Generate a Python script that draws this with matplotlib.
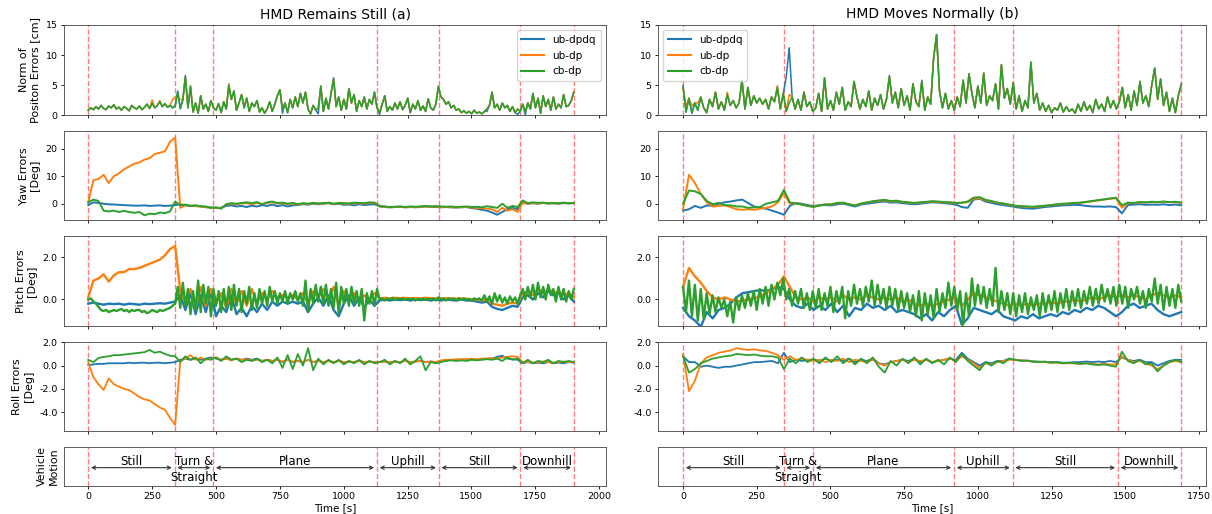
import numpy as np
import matplotlib.pyplot as plt
from matplotlib.ticker import FormatStrFormatter, MultipleLocator, NullLocator

# ---------------------------------------------------------------------------
# phases of the drive (seconds) and labels
# ---------------------------------------------------------------------------
still_bounds = [0, 338, 489, 1130, 1372, 1692, 1901]
moves_bounds = [0, 341, 441, 919, 1118, 1475, 1690]
phase_labels = ["Still", "Turn &\nStraight", "Plane", "Uphill", "Still", "Downhill"]
series_names = ["ub-dpdq", "ub-dp", "cb-dp"]
still_end = 1901
moves_end = 1690

# ---------------------------------------------------------------------------
# (a) HMD remains still
# ---------------------------------------------------------------------------
# position error norm [cm], every ~10 s
a_pos_cbdp = [
    0.8, 1.2, 0.9, 1.4, 1.0, 1.6, 1.1, 0.9, 1.5, 1.2,
    1.7, 1.0, 1.3, 0.8, 1.4, 1.1, 0.7, 1.6, 1.2, 1.0,
    1.5, 0.9, 1.3, 1.8, 1.1, 2.0, 1.2, 1.6, 2.2, 1.4,
    1.9, 1.3, 1.6, 1.2, 1.5,
    3.8, 1.0, 2.5, 6.4, 1.2, 4.8, 0.5, 2.0, 0.3, 3.2, 1.0, 1.8, 0.6, 2.4, 1.2,
    0.8, 1.9, 0.4, 2.2, 1.0, 5.0, 2.6, 4.0, 0.8, 2.0,
    3.4, 1.2, 2.8, 0.6, 2.0, 1.4, 2.4, 0.5, 1.2, 0.3,
    1.0, 2.2, 0.6, 1.8, 3.2, 4.2, 1.0, 2.0, 0.4, 2.6,
    1.2, 3.0, 1.4, 3.6, 2.0, 3.8, 1.0, 0.2, 1.6, 0.8,
    1.2, 4.8, 0.6, 2.8, 1.0, 3.6, 6.0, 1.4, 3.0, 0.8,
    2.6, 1.0, 4.4, 2.0, 3.4, 0.6, 2.4, 1.4, 3.0, 1.0,
    2.6, 1.8, 3.8, 1.2,
    0.4, 1.8, 3.2, 0.6, 1.4, 0.8, 2.0, 1.0, 2.2, 0.9,
    1.6, 2.8, 0.4, 1.8, 1.0, 2.4, 0.8, 1.5, 0.6, 2.7,
    1.2, 0.8, 1.8, 4.8,
    3.0, 2.6, 1.8, 2.2, 1.2, 1.6, 0.8, 1.0, 0.4, 0.7,
    0.3, 0.6, 0.2, 0.8, 0.3, 0.5, 0.2, 0.6, 1.0, 1.6,
    3.8, 1.2, 1.8, 0.8, 2.0, 1.2, 1.6, 0.6, 1.4, 0.4,
    1.0, 0.6,
    1.8, 0.5, 2.0, 1.0, 3.6, 1.2, 2.8, 0.3, 3.2, 1.4,
    2.6, 0.8, 3.0, 1.0, 1.8, 1.2, 3.4, 1.4, 1.6, 2.4, 3.8,
]
a_pos_ubdpdq = [
    0.8, 1.2, 0.9, 1.4, 1.0, 1.6, 1.1, 0.9, 1.5, 1.2,
    1.7, 1.0, 1.3, 0.8, 1.4, 1.1, 0.7, 1.6, 1.2, 1.0,
    1.5, 0.9, 1.3, 1.8, 1.1, 2.0, 1.2, 1.6, 2.2, 1.4,
    1.9, 1.3, 1.6, 1.2, 1.5,
    4.0, 1.2, 2.5, 6.6, 1.2, 4.6, 0.5, 2.0, 0.3, 3.2, 1.0, 1.8, 0.6, 2.4, 1.2,
    0.8, 1.9, 0.4, 2.2, 1.0, 4.8, 2.6, 4.0, 0.8, 2.0,
    3.4, 1.2, 2.8, 0.6, 2.0, 1.4, 2.4, 0.5, 1.2, 0.3,
    1.0, 2.2, 0.6, 1.8, 3.2, 4.2, 0.3, 2.0, 0.4, 2.6,
    1.2, 3.0, 1.4, 3.6, 2.0, 3.8, 1.0, 0.2, 1.6, 0.8,
    0.2, 4.8, 0.6, 2.8, 1.0, 3.6, 6.2, 1.4, 3.0, 0.8,
    2.6, 1.0, 4.4, 2.0, 3.4, 0.6, 2.4, 1.4, 3.0, 1.0,
    2.6, 1.8, 3.8, 1.2,
    0.1, 1.8, 3.2, 0.6, 1.4, 0.8, 2.0, 1.0, 2.2, 0.9,
    1.6, 2.8, 0.4, 1.8, 1.0, 2.4, 0.8, 1.5, 0.6, 2.7,
    1.2, 0.8, 1.8, 4.8,
    3.0, 2.6, 1.8, 2.2, 1.2, 1.6, 0.8, 1.0, 0.4, 0.7,
    0.3, 0.6, 0.2, 0.8, 0.3, 0.5, 0.2, 0.6, 0.6, 1.6,
    3.8, 1.2, 1.8, 0.8, 2.0, 1.2, 1.6, 0.6, 1.4, 0.4,
    0.1, 0.6,
    1.8, 0.0, 2.0, 1.0, 3.6, 1.2, 2.8, 0.3, 3.2, 1.4,
    2.6, 0.8, 3.0, 1.0, 1.8, 1.2, 3.4, 1.4, 1.6, 2.4, 3.8,
]
a_pos_ubdp = [
    0.8, 1.2, 0.9, 1.4, 1.0, 1.6, 1.1, 0.9, 1.5, 1.2,
    1.7, 1.0, 1.3, 0.8, 1.4, 1.1, 0.7, 1.6, 1.2, 1.0,
    1.5, 0.9, 1.3, 1.8, 1.1, 2.5, 1.2, 1.6, 2.4, 1.4,
    1.9, 1.3, 1.6, 2.6, 3.0,
    3.0, 2.6, 2.5, 6.2, 1.2, 4.9, 0.5, 2.0, 0.3, 3.2, 1.0, 1.8, 0.6, 2.4, 1.2,
    0.8, 1.9, 0.4, 2.2, 1.0, 5.2, 2.6, 4.0, 0.8, 2.0,
    3.4, 1.5, 2.8, 0.6, 2.0, 1.4, 2.4, 0.5, 1.2, 0.3,
    1.0, 2.2, 0.6, 1.8, 3.2, 4.2, 1.0, 2.0, 0.4, 2.6,
    1.2, 3.0, 1.4, 3.6, 2.0, 3.8, 1.0, 0.2, 1.6, 0.8,
    1.2, 4.8, 0.6, 2.8, 1.0, 3.6, 6.0, 1.4, 3.0, 0.8,
    2.6, 1.0, 4.4, 2.0, 3.4, 0.6, 2.4, 1.4, 3.0, 1.0,
    2.6, 1.8, 3.8, 1.2,
    0.4, 1.8, 3.2, 0.6, 1.4, 0.8, 2.0, 1.0, 2.2, 0.9,
    1.6, 2.8, 0.4, 1.8, 1.0, 2.4, 0.8, 1.5, 0.6, 2.7,
    1.2, 0.8, 1.8, 4.6,
    3.0, 2.6, 1.8, 2.2, 1.2, 1.6, 0.8, 1.0, 0.4, 0.7,
    0.3, 0.6, 0.2, 0.8, 0.3, 0.5, 0.2, 0.6, 1.0, 1.6,
    3.8, 1.2, 1.8, 0.8, 2.0, 1.2, 1.6, 0.6, 1.4, 0.4,
    1.0, 0.6,
    1.8, 0.5, 2.0, 1.0, 3.6, 1.2, 2.8, 0.3, 3.2, 1.4,
    2.6, 0.8, 3.0, 1.0, 1.8, 1.2, 3.4, 1.4, 1.6, 2.4, 3.8,
]

# yaw error [deg], every ~20 s
a_yaw_ubdpdq = [
    -0.5, 0.5, 0.3, 0.0, -0.2, -0.3, -0.4, -0.5, -0.6, -0.7,
    -0.7, -0.6, -0.8, -0.7, -0.6, -0.8, -0.7, -0.5,
    -0.2, -0.6, -0.8, -0.7, -1.0, -1.2, -1.4, -1.6,
    -1.4, -0.8, -0.6, -1.0, -0.8, -1.2, -0.7, -1.0, -0.5, -0.8,
    -0.3, -0.9, -0.5, -1.0, -0.6, -0.4, -0.2, -0.3, 0.0, -0.2,
    0.0, 0.2, -0.2, 0.0, -0.4, -0.3, -0.6, -0.2, -0.5, -0.3,
    -0.2, -1.0, -1.2, -1.3, -1.2, -1.1, -1.3, -1.2, -1.3, -1.2,
    -1.0, -1.1, -1.2, -1.3, -1.2, -1.3, -1.4, -1.3, -1.2, -1.6,
    -1.8, -2.2, -2.5, -3.2, -4.0, -3.0, -2.0, -1.5, -2.0, 0.3,
    0.0, 0.2, 0.0, 0.3, 0.1, 0.2, 0.0, 0.2, 0.1, 0.2,
]
a_yaw_ubdp = [
    0.5, 8.5, 9.0, 10.5, 7.5, 10.0, 11.0, 12.5, 13.5, 14.5,
    15.0, 16.0, 16.5, 18.0, 18.5, 19.0, 22.5, 24.0,
    -1.5, -0.5, -0.7, -0.9, -1.0, -1.3, -1.4, -1.5,
    -1.6, -0.3, 0.0, -0.2, 0.1, 0.2, -0.2, 0.3, -0.1, 0.2,
    0.6, 0.1, 0.2, -0.2, 0.1, -0.3, 0.0, -0.1, 0.2, 0.0,
    0.1, 0.3, -0.1, 0.2, 0.0, 0.0, 0.2, 0.1, 0.0, 0.3,
    0.2, -0.9, -1.1, -1.3, -1.2, -1.1, -1.3, -1.2, -1.2, -1.1,
    -1.0, -1.1, -1.0, -1.2, -1.2, -1.3, -1.3, -1.2, -1.2, -1.4,
    -1.5, -1.6, -1.8, -2.0, -3.0, -1.5, -2.5, -2.0, -3.0, 0.4,
    0.1, 0.2, 0.1, 0.3, 0.2, 0.1, 0.2, 0.3, 0.2, 0.2,
]
a_yaw_cbdp = [
    0.5, 1.5, 1.0, -2.5, -2.8, -2.5, -3.0, -2.6, -3.0, -3.3,
    -3.0, -4.2, -3.6, -3.8, -3.2, -3.4, -2.8, 0.8,
    -0.5, -0.3, -0.8, -0.6, -0.9, -1.0, -1.5, -1.3,
    -1.8, -0.2, 0.2, 0.0, 0.3, 0.5, 0.2, 0.6, -0.2, 0.5,
    0.8, 0.2, 0.4, 0.0, 0.3, -0.2, 0.2, 0.0, 0.3, 0.1,
    0.2, 0.4, 0.0, 0.3, 0.2, 0.1, 0.4, 0.3, 0.2, 0.5,
    0.4, -0.8, -1.0, -1.2, -1.1, -1.0, -1.2, -1.0, -1.1, -1.0,
    -0.8, -1.0, -0.9, -1.0, -1.1, -1.0, -1.2, -1.1, -1.0, -1.2,
    -1.1, -1.3, -0.9, -1.2, -1.5, 0.0, -1.5, -0.8, -1.2, 1.2,
    0.2, 0.5, 0.3, 0.4, 0.1, 0.3, 0.2, 0.4, 0.2, 0.3,
]

# pitch error [deg], cb-dp every ~10 s, the others every ~20 s
a_pitch_ubdpdq = [
    -0.2, -0.15, -0.2, -0.25, -0.2, -0.22, -0.2, -0.25, -0.2, -0.22,
    -0.25, -0.2, -0.22, -0.2, -0.18, -0.2, -0.15, -0.1,
    0.2, -0.5, 0.3, -0.7, 0.2, -0.6, 0.4, -0.8,
    -0.3, -0.6, 0.2, -0.7, -0.4, -0.8, -0.3, -0.6, -0.2, -0.5,
    -0.1, -0.3, -0.1, -0.2, -0.1, -0.2, -0.1, -0.6, -0.2, 0.1,
    -0.3, 0.2, -0.5, -0.8, -0.2, 0.2, -0.3, 0.1, -0.4, 0.0,
    -0.3, -0.05, 0.0, -0.05, 0.0, -0.03, 0.0, -0.05, 0.0, -0.03,
    0.0, -0.05, 0.0, -0.05, 0.0, -0.03, -0.05, 0.0, -0.05, -0.05,
    -0.1, -0.15, -0.1, -0.35, -0.45, -0.5, -0.4, -0.3, -0.35, 0.1,
    0.2, 0.0, 0.3, 0.1, 0.4, 0.2, 0.3, 0.0, 0.2, -0.1,
]
a_pitch_ubdp = [
    0.1, 0.9, 1.0, 1.2, 0.85, 1.15, 1.3, 1.3, 1.45, 1.45,
    1.5, 1.6, 1.7, 1.8, 1.9, 2.1, 2.4, 2.55,
    0.4, -0.2, 0.5, -0.4, 0.6, -0.3, 0.5, -0.2,
    0.3, -0.4, 0.5, -0.2, 0.4, -0.3, 0.5, -0.2, 0.3, 0.0,
    0.4, 0.1, 0.2, 0.1, 0.2, 0.0, 0.3, -0.2, 0.4, 0.1,
    0.5, 0.0, 0.6, -0.3, 0.4, 0.0, 0.3, -0.1, 0.2, 0.0,
    0.3, 0.05, 0.08, 0.05, 0.08, 0.06, 0.08, 0.05, 0.07, 0.05,
    0.08, 0.06, 0.05, 0.05, 0.06, 0.05, 0.04, 0.05, 0.03, 0.0,
    0.0, -0.05, 0.0, -0.2, -0.25, -0.3, -0.2, -0.15, -0.2, 0.3,
    0.4, 0.2, 0.5, 0.3, 0.5, 0.3, 0.4, 0.2, 0.3, 0.1,
]
a_pitch_cbdp = [
    0.0, 0.05, -0.1, -0.2, -0.35, -0.5, -0.55, -0.5, -0.6, -0.55,
    -0.5, -0.55, -0.5, -0.45, -0.55, -0.5, -0.6, -0.5, -0.55, -0.5,
    -0.5, -0.6, -0.55, -0.65, -0.6, -0.5, -0.55, -0.6, -0.5, -0.55,
    -0.5, -0.45, -0.4, -0.3, -0.2,
    0.6, -0.4, 0.8, -0.3, 0.5, -0.7, 0.4, -0.5, 0.9, -0.6, 0.7, -0.2, 0.6, -0.8, 0.5,
    -0.3, 0.4, -0.6, 0.5, -0.4, 0.6, -0.5, 0.7, -0.3, 0.5,
    -0.6, 0.4, -0.2, 0.6, -0.5, 0.3, -0.4, 0.5, -0.2, 0.4,
    -0.3, 0.6, -0.1, 0.4, -0.2, 0.3, -0.1, 0.4, -0.2, 0.3,
    0.0, 0.4, -0.1, 0.3, -0.3, 0.9, -0.6, 0.5, -0.2, 0.7,
    -0.1, 0.6, -0.2, 0.7, -0.3, 0.5, -0.4, 0.8, -0.7, 0.6,
    -0.2, 0.5, -0.3, 0.6, -0.2, 0.4, -0.3, 0.5, -1.0, 0.3,
    -0.2, 0.4, -0.3, 0.5,
    0.0, 0.05, -0.05, 0.05, 0.0, 0.08, -0.03, 0.05, 0.0, 0.06,
    -0.02, 0.04, 0.0, 0.05, -0.05, 0.03, 0.0, 0.05, -0.03, 0.04,
    0.0, 0.05, -0.05, 0.1,
    0.0, 0.05, -0.05, 0.05, 0.0, 0.04, -0.04, 0.06, -0.02, 0.05,
    0.0, 0.03, -0.05, 0.05, 0.0, 0.05, -0.05, 0.2, -0.1, 0.15,
    -0.2, 0.3, -0.1, 0.2, -0.15, 0.1, -0.2, 0.15, -0.1, 0.1,
    -0.2, 0.2,
    0.5, 0.0, 0.6, 0.1, 0.7, 0.0, 0.8, 0.1, 0.6, 0.0,
    0.7, 0.2, 0.5, -0.1, 0.6, 0.0, 0.5, -0.1, 0.4, 0.0, 0.5,
]

# roll error [deg], every ~20 s
a_roll_ubdpdq = [
    0.05, 0.1, 0.15, 0.15, 0.2, 0.2, 0.2, 0.2, 0.25, 0.2,
    0.25, 0.25, 0.2, 0.25, 0.25, 0.2, 0.25, 0.3,
    0.5, 0.6, 0.5, 0.6, 0.5, 0.6, 0.7, 0.6,
    0.5, 0.6, 0.5, 0.6, 0.5, 0.6, 0.5, 0.6, 0.4, 0.5,
    0.4, 0.5, 0.3, 0.5, 0.3, 0.4, 0.3, 0.5, 0.3, 0.4,
    0.3, 0.4, 0.3, 0.4, 0.3, 0.35, 0.3, 0.4, 0.3, 0.35,
    0.3, 0.3, 0.35, 0.3, 0.35, 0.3, 0.4, 0.3, 0.35, 0.4,
    0.3, 0.35, 0.3, 0.4, 0.45, 0.5, 0.45, 0.5, 0.5, 0.55,
    0.5, 0.55, 0.6, 0.6, 0.75, 0.85, 0.6, 0.55, 0.5, 0.2,
    0.3, 0.2, 0.25, 0.2, 0.3, 0.2, 0.25, 0.2, 0.3, 0.25,
]
a_roll_ubdp = [
    0.3, -1.0, -1.6, -2.1, -1.1, -1.6, -1.8, -2.0, -2.1, -2.4,
    -2.7, -2.9, -3.0, -3.3, -3.6, -3.8, -4.5, -5.1,
    0.4, 0.6, 0.9, 0.5, 0.7, 0.5, 0.6, 0.7,
    0.5, 0.6, 0.45, 0.6, 0.5, 0.55, 0.45, 0.5, 0.4, 0.5,
    0.4, 0.5, 0.35, 0.5, 0.35, 0.4, 0.3, 0.5, 0.3, 0.4,
    0.3, 0.4, 0.3, 0.4, 0.3, 0.35, 0.3, 0.4, 0.3, 0.35,
    0.3, 0.3, 0.35, 0.3, 0.35, 0.3, 0.4, 0.3, 0.35, 0.4,
    0.3, 0.35, 0.3, 0.45, 0.5, 0.5, 0.55, 0.55, 0.55, 0.6,
    0.55, 0.6, 0.6, 0.65, 0.6, 0.7, 0.75, 0.8, 0.75, 0.3,
    0.3, 0.25, 0.3, 0.35, 0.3, 0.25, 0.3, 0.35, 0.3, 0.3,
]
a_roll_cbdp = [
    0.5, 0.3, 0.65, 0.75, 0.8, 0.9, 0.9, 0.95, 1.0, 1.05,
    1.1, 1.15, 1.35, 1.1, 1.2, 1.0, 0.85, 0.8,
    0.3, 0.8, 0.5, 0.7, 0.2, 0.6, 0.5, 0.7,
    0.4, 0.8, 0.5, 0.6, 0.3, 0.5, 0.4, 0.6, 0.3, 0.5,
    0.2, 0.7, -0.2, 0.9, -0.3, 1.0, 0.0, 1.5, -0.4, 0.6,
    0.1, 0.5, 0.2, 0.5, 0.1, 0.4, 0.2, 0.5, 0.1, 0.4,
    0.2, 0.3, 0.5, 0.1, 0.4, 0.2, 0.6, 0.1, 0.4, 0.8,
    -0.4, 0.3, 0.2, 0.3, 0.4, 0.45, 0.4, 0.45, 0.4, 0.5,
    0.45, 0.5, 0.55, 0.5, 0.6, 0.4, 0.7, 0.5, 0.6, 0.2,
    0.5, 0.2, 0.4, 0.3, 0.5, 0.2, 0.4, 0.3, 0.4, 0.3,
]

# ---------------------------------------------------------------------------
# (b) HMD moves normally
# ---------------------------------------------------------------------------
b_pos_cbdp = [
    4.8, 0.5, 2.8, 0.3, 2.0, 0.8, 3.0, 1.2, 0.4, 2.6,
    1.4, 3.8, 1.0, 2.2, 0.8, 3.4, 1.6, 2.4, 1.2, 2.0,
    5.8, 1.0, 4.6, 1.6, 3.2, 2.0, 2.8, 1.8, 2.6, 1.0,
    3.0, 2.2, 4.6, 1.0, 3.6,
    0.6, 2.0, 3.0, 1.0, 2.6, 0.8, 3.8, 1.4, 2.2, 0.6,
    1.2, 3.6, 0.6, 6.2, 1.0, 2.4, 0.8, 3.8, 1.8, 4.6,
    0.8, 2.2, 1.4, 5.6, 3.0, 1.0, 2.6, 1.4, 4.0, 0.8,
    2.8, 1.6, 3.4, 1.0, 2.6, 6.4, 2.0, 3.8, 1.2, 4.4,
    1.6, 3.2, 0.8, 5.2, 2.2, 1.4, 5.6, 0.8, 3.0, 1.8,
    9.5, 13.4, 4.0, 1.2, 3.6, 1.0, 2.4,
    0.8, 3.0, 1.4, 5.8, 2.0, 6.8, 3.6, 1.2, 4.8, 2.0,
    7.0, 1.6, 3.2, 2.4, 5.2, 1.0, 8.4, 2.8, 4.4, 1.8,
    5.4, 1.0, 3.2, 0.6, 2.4, 1.2, 8.8, 2.0, 3.6, 0.8,
    2.0, 0.6, 1.6, 0.4, 1.2, 0.8, 2.0, 0.5, 1.4, 0.6,
    1.0, 0.3, 1.8, 0.6, 2.2, 0.8, 1.6, 0.4, 2.6, 1.0,
    1.8, 0.6, 3.0, 1.2, 2.4, 1.0,
    2.2, 4.6, 1.2, 3.4, 0.8, 4.0, 1.6, 5.6, 2.0, 3.2,
    1.4, 5.0, 7.8, 2.6, 6.0, 1.6, 3.8, 0.6, 2.8, 0.4,
    3.2, 5.0,
]
b_pos_ubdpdq = [
    4.9, 0.5, 2.8, 0.3, 2.0, 0.8, 3.0, 1.2, 0.4, 2.6,
    1.4, 3.8, 1.0, 2.2, 0.8, 3.4, 1.6, 2.4, 1.2, 2.0,
    5.8, 1.0, 4.6, 1.6, 3.2, 2.0, 2.8, 1.8, 2.6, 1.0,
    3.0, 2.2, 4.6, 1.0, 3.6,
    6.3, 11.2, 3.0, 1.0, 2.6, 0.8, 3.8, 1.4, 2.2, 0.6,
    1.2, 3.6, 0.6, 6.2, 1.0, 2.4, 0.8, 3.8, 1.8, 4.6,
    0.8, 2.2, 1.4, 5.6, 3.0, 1.0, 2.6, 1.4, 4.0, 0.8,
    2.8, 1.6, 3.4, 1.0, 2.6, 6.6, 2.0, 3.8, 1.2, 4.4,
    1.6, 3.2, 0.8, 5.2, 2.2, 1.4, 5.8, 0.8, 3.0, 1.8,
    9.5, 13.4, 4.0, 1.2, 3.6, 1.0, 2.4,
    0.8, 3.0, 1.4, 5.8, 2.0, 6.9, 3.6, 1.2, 4.8, 2.0,
    7.0, 1.6, 3.2, 2.4, 5.2, 1.0, 8.4, 2.8, 4.4, 1.8,
    5.4, 1.0, 3.2, 0.6, 2.4, 1.2, 8.8, 2.0, 3.6, 0.8,
    2.0, 0.6, 1.6, 0.4, 1.2, 0.8, 2.0, 0.5, 1.4, 0.6,
    1.0, 0.3, 1.8, 0.6, 2.2, 0.8, 1.6, 0.4, 2.6, 1.0,
    1.8, 0.6, 3.0, 1.2, 2.4, 1.0,
    2.2, 4.6, 1.2, 3.4, 0.8, 4.0, 1.6, 5.6, 2.0, 3.2,
    1.4, 5.0, 7.8, 2.6, 6.0, 1.6, 3.8, 0.6, 2.8, 0.4,
    3.2, 5.2,
]
b_pos_ubdp = [
    4.5, 1.5, 2.8, 1.5, 2.0, 2.0, 3.0, 1.2, 0.4, 2.6,
    1.4, 3.8, 1.0, 2.2, 0.8, 3.8, 1.6, 2.4, 1.2, 2.0,
    5.8, 1.0, 4.6, 1.6, 3.2, 2.0, 2.8, 1.8, 2.6, 1.0,
    3.0, 2.2, 4.9, 1.0, 3.6,
    0.6, 3.4, 3.0, 1.0, 2.6, 0.8, 3.8, 1.4, 2.2, 0.6,
    1.2, 3.6, 0.6, 6.2, 1.0, 2.4, 0.8, 3.8, 1.8, 4.6,
    0.8, 2.2, 1.4, 5.6, 3.0, 1.0, 2.6, 1.4, 4.0, 0.8,
    2.8, 1.6, 3.4, 1.0, 2.6, 6.4, 2.0, 3.8, 1.2, 4.4,
    1.6, 3.2, 0.8, 5.2, 2.2, 1.4, 5.6, 0.8, 3.0, 1.8,
    9.5, 13.4, 4.0, 1.2, 3.6, 1.0, 2.4,
    0.8, 3.0, 1.4, 5.8, 2.0, 6.8, 3.6, 1.2, 4.8, 2.0,
    7.0, 1.6, 3.2, 2.4, 5.2, 1.0, 8.4, 2.8, 4.4, 1.8,
    5.4, 1.0, 3.2, 0.6, 2.4, 1.2, 8.8, 2.0, 3.6, 0.8,
    2.0, 0.6, 1.6, 0.4, 1.2, 0.8, 2.0, 0.5, 1.4, 0.6,
    1.0, 0.3, 1.8, 0.6, 2.2, 0.8, 1.6, 0.4, 2.6, 1.0,
    1.8, 0.6, 3.0, 1.2, 2.4, 1.0,
    2.2, 4.6, 1.2, 3.4, 0.8, 4.0, 1.6, 5.6, 2.0, 3.2,
    1.4, 5.0, 7.8, 2.6, 6.0, 1.6, 3.8, 0.6, 2.8, 0.4,
    3.2, 5.0,
]

b_yaw_ubdpdq = [
    -2.5, -2.0, -0.8, -1.5, -0.6, -0.8, 0.0, 0.5, 0.8, 1.2,
    1.5, 0.2, -1.0, -1.5, -1.8, -2.5, -3.2, -4.0, -0.8, 0.3,
    0.0, -0.5, -0.8, -0.6, -0.5, -0.6, -0.2, 0.0, -0.5, -1.0,
    -0.3, 0.0, 0.3, 0.6, 0.8, 0.4, 0.5, 0.2, 0.0, -0.2,
    0.0, 0.3, 0.5, 0.4, 0.2, 0.0, -0.3, -1.2, -1.5, 1.5,
    1.8, 0.8, 0.3, -0.2, -0.5, -0.8, -1.2, -1.5, -1.7, -1.8,
    -1.5, -1.2, -1.0, -0.8, -0.6, -0.5, -0.4, -0.5, -0.8, -1.0,
    -1.0, -1.1, -1.0, -1.2, -3.5, -0.5, -0.3, -0.2, -0.4, -0.3,
    -0.4, -0.2, -0.5, -0.3, -0.6,
]
b_yaw_ubdp = [
    -2.0, 10.5, 7.5, 3.5, 0.5, -1.0, -0.8, -0.6, -1.2, -2.0,
    -2.2, -2.0, -2.2, -1.8, -1.5, -1.0, 0.5, 3.8, 0.0, 0.2,
    -0.3, -0.8, -1.0, -0.6, -0.2, -0.3, 0.2, 0.3, -0.2, -0.6,
    0.0, 0.4, 0.8, 1.0, 1.2, 0.8, 0.9, 0.6, 0.4, 0.2,
    0.4, 0.6, 0.8, 0.6, 0.5, 0.4, 0.2, 0.3, 0.6, 1.8,
    2.0, 1.2, 0.8, 0.3, 0.0, -0.4, -0.8, -1.0, -1.1, -1.2,
    -1.0, -0.8, -0.6, -0.3, -0.1, 0.0, 0.2, 0.3, 0.6, 0.9,
    1.2, 1.5, 1.8, 2.0, -1.5, 0.3, 0.2, 0.5, 0.4, 0.6,
    0.5, 0.7, 0.5, 0.6, 0.3,
]
b_yaw_cbdp = [
    0.0, 4.8, 4.5, 3.5, 1.0, -0.2, 0.3, -0.5, -0.6, -1.0,
    -1.0, -1.5, -1.3, -1.2, 0.0, 0.5, 1.0, 5.0, 0.5, 0.0,
    -0.3, -0.8, -1.2, -0.6, -0.3, -0.2, 0.3, 0.4, -0.2, -0.7,
    0.1, 0.5, 0.9, 1.2, 1.4, 1.0, 1.1, 0.7, 0.5, 0.3,
    0.5, 0.7, 0.9, 0.8, 0.6, 0.5, 0.3, 0.4, 0.8, 2.2,
    2.4, 1.4, 1.0, 0.4, 0.1, -0.3, -0.7, -0.9, -1.0, -1.1,
    -0.9, -0.7, -0.5, -0.2, 0.0, 0.1, 0.3, 0.4, 0.7, 1.0,
    1.3, 1.6, 1.9, 2.2, -0.5, 0.4, 0.3, 0.6, 0.5, 0.7,
    0.6, 0.8, 0.6, 0.7, 0.4,
]

b_pitch_ubdpdq = [
    -0.4, -0.8, -1.0, -1.3, -0.6, -0.9, -0.5, -0.4, -0.2, 0.1,
    0.3, 0.35, 0.4, 0.45, 0.4, 0.5, 0.6, 0.5, 0.0, -0.3,
    -0.4, -0.2, -0.5, -0.3, -0.5, -0.2, -0.6, -0.3, -0.8, -0.4,
    -0.5, -0.2, -0.4, -0.3, -0.5, -0.3, -0.6, -0.5, -0.6, -0.7,
    -0.9, -0.7, -1.0, -0.6, -0.8, -0.5, -0.3, -1.2, -0.9, -0.4,
    -0.5, -0.6, -0.7, -0.5, -0.8, -0.9, -1.0, -0.8, -0.9, -0.7,
    -0.9, -0.8, -0.7, -0.8, -0.6, -0.7, -0.5, -0.6, -0.4, -0.5,
    -0.3, -0.4, -0.6, -0.8, -0.6, -0.3, -0.2, -0.4, -0.3, -0.2,
    -0.5, -0.7, -0.8, -0.7, -0.6,
]
b_pitch_ubdp = [
    0.6, 1.5, 1.1, 0.8, 0.4, 0.1, 0.0, 0.1, 0.0, -0.1,
    -0.05, 0.0, 0.05, 0.15, 0.3, 0.5, 0.7, 1.1, 0.6, 0.1,
    0.0, 0.1, -0.1, 0.1, 0.0, 0.1, -0.1, 0.2, 0.0, 0.1,
    0.0, 0.2, 0.1, 0.0, 0.1, 0.0, 0.1, -0.1, 0.0, -0.2,
    -0.3, -0.2, -0.3, -0.2, -0.1, 0.0, 0.1, -0.3, 0.0, 0.3,
    0.2, 0.1, 0.0, -0.1, -0.2, -0.3, -0.2, -0.3, -0.2, -0.3,
    -0.2, -0.2, -0.1, -0.2, -0.1, -0.1, 0.0, -0.1, 0.0, 0.1,
    0.0, 0.1, 0.2, 0.1, 0.2, 0.1, 0.2, 0.1, 0.0, 0.2,
    0.3, 0.2, 0.1, 0.2, 0.1,
]
b_pitch_cbdp = [
    0.6, -0.6, 0.9, -0.8, 0.7, -1.0, 0.5, -0.9, 0.3, -0.7,
    0.2, -0.6, 0.1, -0.4, 0.0, -0.8, -0.1, -1.1, 0.1, -0.5,
    0.2, -0.4, 0.3, -0.3, 0.4, -0.5, 0.5, -0.2, 0.6, -0.3,
    0.7, 0.0, 0.8, 0.2, 1.0,
    0.0, 0.5, -0.3, 0.4, -0.2, 0.5, -0.4, 0.3, -0.5, 0.4,
    -0.4, 0.5, -0.5, 0.3, -0.3, 0.6, -0.6, 0.4, -0.2, 0.6,
    -0.9, 0.4, -0.3, 0.7, -0.2, 0.5, -0.3, 0.6, -0.1, 0.9,
    -0.3, 0.7, -0.2, 0.5, -0.4, 0.6, -0.3, 0.5, -0.5, 0.4,
    -0.4, 0.3, -0.6, 0.2, -0.8, 0.4, -1.0, 0.3, -0.7, 0.2,
    -0.9, 0.5, -0.6, 0.3, -0.4, 0.8, -0.3,
    0.6, -0.5, 0.4, -1.2, 0.3, -0.8, 1.0, -0.3, 0.7, -0.2,
    0.6, -0.4, 0.5, -0.3, 1.5, -0.6, 0.4, -0.5, 0.3, -0.7,
    0.3, -0.8, 0.2, -0.6, 0.3, -0.7, 0.1, -0.5, 0.2, -0.8,
    0.3, -0.6, 0.2, -0.5, 0.4, -0.6, 0.3, -0.4, 0.5, -0.5,
    0.4, -0.3, 0.5, -0.4, 0.4, -0.2, 0.6, -0.3, 0.5, -0.2,
    0.7, -0.1, 0.5, -0.2, 0.6, -0.3,
    0.7, -0.2, 0.6, -0.4, 0.5, 0.0, 0.6, -0.2, 0.4, -0.4,
    0.5, -0.1, 1.0, -0.2, 0.7, -0.5, 0.6, -0.3, 0.5, -0.4,
    0.7, -0.1,
]

b_roll_ubdpdq = [
    0.8, 0.3, 0.3, -0.1, 0.0, -0.1, -0.2, -0.1, -0.1, 0.0,
    0.1, 0.2, 0.3, 0.3, 0.35, 0.4, 0.2, 1.1, 0.3, 0.5,
    0.4, 0.5, 0.5, 0.4, 0.6, 0.4, 0.5, 0.4, 0.6, 0.3,
    0.5, 0.4, 0.6, 0.2, 0.1, 0.3, 0.4, 0.5, 0.4, 0.6,
    0.3, 0.5, 0.3, 0.4, 0.5, 0.6, 0.5, 1.1, 0.6, 0.3,
    0.0, 0.3, 0.2, 0.4, 0.4, 0.6, 0.5, 0.45, 0.4, 0.35,
    0.35, 0.3, 0.3, 0.3, 0.25, 0.25, 0.3, 0.3, 0.35, 0.3,
    0.35, 0.3, 0.4, 0.3, 0.7, 0.5, 0.4, 0.5, 0.3, 0.3,
    0.0, 0.2, 0.4, 0.5, 0.5,
]
b_roll_ubdp = [
    1.0, -2.2, -1.3, 0.2, 0.7, 0.9, 1.1, 1.2, 1.3, 1.5,
    1.4, 1.35, 1.4, 1.3, 1.25, 1.1, 0.9, 0.5, 0.8, 0.5,
    0.6, 0.5, 0.4, 0.5, 0.3, 0.5, 0.4, 0.6, 0.3, 0.5,
    0.4, 0.3, 0.5, 0.2, 0.0, 0.3, 0.4, 0.5, 0.3, 0.5,
    0.4, 0.5, 0.3, 0.4, 0.5, 0.6, 0.4, 0.8, 0.5, 0.2,
    -0.2, 0.2, 0.1, 0.3, 0.4, 0.5, 0.5, 0.45, 0.4, 0.35,
    0.3, 0.3, 0.25, 0.25, 0.2, 0.2, 0.2, 0.15, 0.2, 0.15,
    0.1, 0.15, 0.1, 0.1, 0.8, 0.5, 0.3, 0.4, 0.2, 0.0,
    -0.3, 0.0, 0.3, 0.4, 0.3,
]
b_roll_cbdp = [
    0.8, -0.6, -0.3, 0.2, 0.4, 0.6, 0.7, 0.8, 0.85, 1.0,
    0.95, 0.9, 0.95, 0.85, 0.8, 0.8, 0.7, -0.3, 0.6, 0.2,
    0.7, 0.3, 0.6, 0.2, 0.7, 0.3, 0.8, 0.2, 0.6, 0.1,
    0.6, 0.2, 0.7, -0.1, -0.6, 0.4, 0.0, 0.6, 0.2, 0.7,
    0.1, 0.6, 0.2, 0.5, 0.1, 0.7, 0.3, 1.0, 0.4, 0.0,
    -0.4, 0.3, 0.0, 0.4, 0.2, 0.6, 0.5, 0.4, 0.45, 0.35,
    0.3, 0.35, 0.25, 0.3, 0.2, 0.25, 0.2, 0.15, 0.2, 0.1,
    0.05, 0.1, 0.0, -0.1, 1.2, 0.4, 0.2, 0.5, 0.1, 0.2,
    -0.5, 0.0, 0.3, 0.5, 0.3,
]

# ---------------------------------------------------------------------------
# figure
# ---------------------------------------------------------------------------
colors = ["#1f77b4", "#ff7f0e", "#2ca02c"]
ylabels = ["Norm of\nPositon Errors [cm]", "Yaw Errors\n[Deg]",
           "Pitch Errors\n[Deg]", "Roll Errors\n[Deg]"]
ylims = [(0, 15), (-6.0, 26.3), (-1.24, 3.0), (-5.6, 2.05)]
line_w = [1.1, 1.4, 1.7, 1.3]

columns = [
    dict(title="HMD Remains Still (a)", end=still_end, bounds=still_bounds,
         xlim=(-95, 2027), legend_loc="upper right", left=64, right=606,
         panels=[(a_pos_ubdpdq, a_pos_ubdp, a_pos_cbdp),
                 (a_yaw_ubdpdq, a_yaw_ubdp, a_yaw_cbdp),
                 (a_pitch_ubdpdq, a_pitch_ubdp, a_pitch_cbdp),
                 (a_roll_ubdpdq, a_roll_ubdp, a_roll_cbdp)]),
    dict(title="HMD Moves Normally (b)", end=moves_end, bounds=moves_bounds,
         xlim=(-85, 1774), legend_loc="upper left", left=658, right=1206,
         panels=[(b_pos_ubdpdq, b_pos_ubdp, b_pos_cbdp),
                 (b_yaw_ubdpdq, b_yaw_ubdp, b_yaw_cbdp),
                 (b_pitch_ubdpdq, b_pitch_ubdp, b_pitch_cbdp),
                 (b_roll_ubdpdq, b_roll_ubdp, b_roll_cbdp)]),
]

W, H = 1212, 514
fig = plt.figure(figsize=(W / 100, H / 100), dpi=100)

for ci, col in enumerate(columns):
    gs = fig.add_gridspec(5, 1, height_ratios=[90, 89, 89, 89, 39],
                          left=col["left"] / W, right=col["right"] / W,
                          top=1 - 25 / H, bottom=1 - 486 / H, hspace=0.205)
    axes = [fig.add_subplot(gs[i]) for i in range(5)]

    for pi, ax in enumerate(axes):
        for b in col["bounds"]:
            ax.axvline(b, color="red", alpha=0.5, ls="--", lw=1.0, zorder=1)
        ax.set_xlim(*col["xlim"])
        ax.tick_params(labelsize=6.8, length=2.5, width=0.6, pad=2)
        for s in ax.spines.values():
            s.set_linewidth(0.6)
            s.set_color("#444444")
        if pi < 4:
            ax.tick_params(labelbottom=False)
            for k, vals in enumerate(col["panels"][pi]):
                t = np.linspace(0, col["end"], len(vals))
                ax.plot(t, vals, color=colors[k], lw=line_w[pi],
                        label=series_names[k], zorder=2 + k)
            ax.set_ylim(*ylims[pi])
            if ci == 0:
                ax.set_ylabel(ylabels[pi], fontsize=8, labelpad=4)

    # y tick formats
    axes[0].yaxis.set_major_locator(MultipleLocator(5))
    axes[1].yaxis.set_major_locator(MultipleLocator(10))
    axes[2].yaxis.set_major_locator(MultipleLocator(2))
    axes[2].yaxis.set_major_formatter(FormatStrFormatter("%.1f"))
    axes[3].yaxis.set_major_locator(MultipleLocator(2))
    axes[3].yaxis.set_major_formatter(FormatStrFormatter("%.1f"))

    axes[0].set_title(col["title"], fontsize=10, pad=5)
    leg = axes[0].legend(loc=col["legend_loc"], fontsize=7.5, handlelength=2.2,
                         borderpad=0.45, labelspacing=0.55, framealpha=0.8)
    for h in leg.get_lines():
        h.set_linewidth(1.5)

    # vehicle motion panel
    mot = axes[4]
    mot.yaxis.set_major_locator(NullLocator())
    mot.set_ylim(0, 1)
    bnd = col["bounds"]
    for i, lab in enumerate(phase_labels):
        a, b = bnd[i], bnd[i + 1]
        mot.annotate("", xy=(a, 0.47), xytext=(b, 0.47),
                     arrowprops=dict(arrowstyle="<->", color="#333333", lw=0.8,
                                     shrinkA=2, shrinkB=2, mutation_scale=6))
        for li, line in enumerate(lab.split("\n")):
            mot.text((a + b) / 2, 0.53 - 0.40 * li, line, ha="center", va="baseline",
                     fontsize=8.5)
    mot.set_xlabel("Time [s]", fontsize=7.5, labelpad=1)
    if ci == 0:
        mot.set_ylabel("Vehicle\nMotion", fontsize=8, labelpad=4)

fig.savefig("out.png", dpi=100)
